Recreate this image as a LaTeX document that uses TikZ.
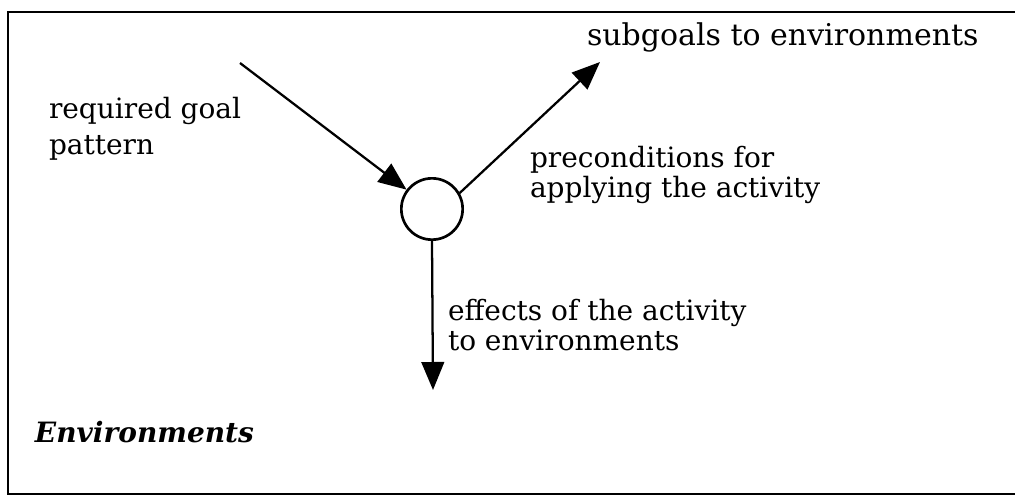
\documentclass[tikz,border=0pt]{standalone}
\usepackage{fontspec}
\setmainfont{DejaVu Serif}
\usetikzlibrary{arrows.meta}
\begin{document}
\begin{tikzpicture}[x=0.75pt,y=-0.75pt,
  lbl/.style={inner sep=0pt,outer sep=0pt,align=left,anchor=base west,
    font=\fontsize{21}{22.5}\selectfont},
  conn/.style={line width=1.7pt,-{Triangle[length=21pt,width=17pt]}},
  frame/.style={line width=2pt}]
\useasboundingbox (0,0) rectangle (1015,497);
\draw[frame] (1015,12) -- (8,12) -- (8,494) -- (1015,494);
\node[circle,draw,line width=2pt,minimum size=46pt,inner sep=0pt] (c) at (432,209) {};
\coordinate (s1) at (240,63);
\coordinate (t2) at (600,62);
\coordinate (t3) at (433,390);
\draw[conn] (s1) -- (c);
\draw[conn] (c.30) -- (t2);
\draw[conn] (c.south) -- (t3);
\node[lbl,font=\fontsize{21}{27}\selectfont] (l1) at (49,154) {required goal\\pattern};
\node[lbl,font=\fontsize{22.5}{22.5}\selectfont] (l2) at (587,45) {subgoals to environments};
\node[lbl] (l3) at (530,197) {preconditions for\\applying the activity};
\node[lbl] (l4) at (448,350) {effects of the activity\\to environments};
\node[lbl,font=\fontsize{21}{22}\selectfont\bfseries\itshape] (l5) at (35,442) {Environments};
\end{tikzpicture}
\end{document}
